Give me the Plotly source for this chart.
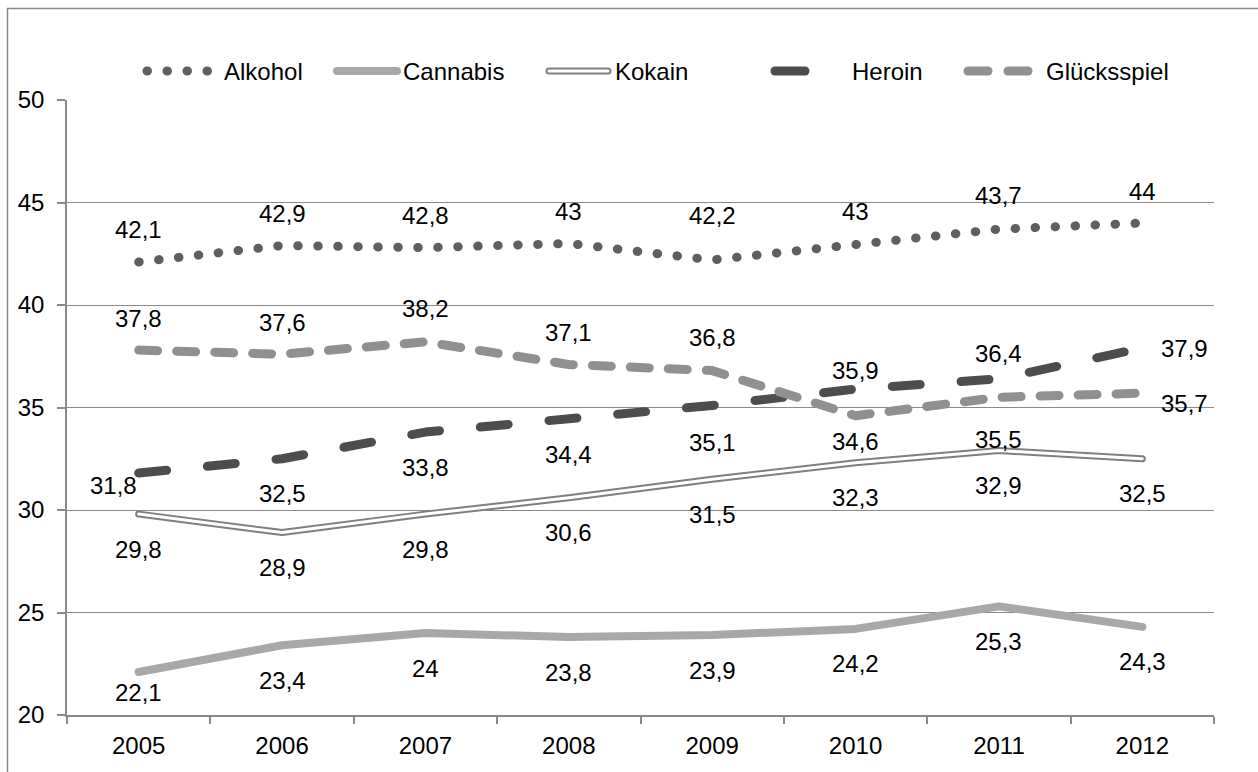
import plotly.graph_objects as go

# ---------------- data ----------------
years = ["2005", "2006", "2007", "2008", "2009", "2010", "2011", "2012"]
alkohol = [42.1, 42.9, 42.8, 43.0, 42.2, 43.0, 43.7, 44.0]
cannabis = [22.1, 23.4, 24.0, 23.8, 23.9, 24.2, 25.3, 24.3]
kokain = [29.8, 28.9, 29.8, 30.6, 31.5, 32.3, 32.9, 32.5]
heroin = [31.8, 32.5, 33.8, 34.4, 35.1, 35.9, 36.4, 37.9]
gluecksspiel = [37.8, 37.6, 38.2, 37.1, 36.8, 34.6, 35.5, 35.7]
series_names = ["Alkohol", "Cannabis", "Kokain", "Heroin", "Glücksspiel"]
y_ticks = [20, 25, 30, 35, 40, 45, 50]

# ---------------- style ----------------
FONT = "Liberation Sans, Arial, sans-serif"
FS = 24
C_ALK = "#5f5f5f"
C_CAN = "#a8a8a8"
C_KOK = "#7f7f7f"
C_HER = "#4d4d4d"
C_GLU = "#909090"
AXC = "#8a8a8a"

W, H = 1258, 772
ML, MR, MT, MB = 67, 44, 100, 57
PW, PH = W - ML - MR, H - MT - MB


def px(x):
    return (x - ML) / PW


def py(y):
    return (H - MB - y) / PH


fig = go.Figure()

# Alkohol (round dots)
fig.add_trace(go.Scatter(x=years, y=alkohol, mode="lines", name=series_names[0],
                         line=dict(color=C_ALK, width=9, dash="0.5px,19.5px"),
                         showlegend=False, hoverinfo="skip"))
# Cannabis
fig.add_trace(go.Scatter(x=years, y=cannabis, mode="lines", name=series_names[1],
                         line=dict(color=C_CAN, width=8),
                         showlegend=False, hoverinfo="skip"))
# Kokain (double line)
fig.add_trace(go.Scatter(x=years, y=kokain, mode="lines", name=series_names[2],
                         line=dict(color=C_KOK, width=7),
                         showlegend=False, hoverinfo="skip"))
fig.add_trace(go.Scatter(x=years, y=kokain, mode="lines", name=series_names[2] + "_inner",
                         line=dict(color="white", width=3),
                         showlegend=False, hoverinfo="skip"))
# Heroin (long dashes)
fig.add_trace(go.Scatter(x=years, y=heroin, mode="lines", name=series_names[3],
                         line=dict(color=C_HER, width=9, dash="28px,41px"),
                         showlegend=False, hoverinfo="skip"))
# Glücksspiel (short dashes)
fig.add_trace(go.Scatter(x=years, y=gluecksspiel, mode="lines", name=series_names[4],
                         line=dict(color=C_GLU, width=9, dash="19px,19px"),
                         showlegend=False, hoverinfo="skip"))


# ---------------- data labels ----------------
def fmt(v):
    return f"{v:g}".replace(".", ",")


offsets = {
    "alk": [(0, 32), (0, 32), (0, 32), (0, 32), (0, 44), (0, 32), (0, 34), (0, 32)],
    "can": [(0, -21), (0, -35), (0, -35), (0, -35), (0, -35), (0, -35), (0, -35), (0, -35)],
    "kok": [(0, -35)] * 8,
    "her": [(-25, -12), (0, -35), (0, -35), (0, -35), (0, -37), (0, 19), (0, 25), (42, 0)],
    "glu": [(0, 32), (0, 32), (0, 33), (0, 32), (0, 33), (0, -26), (0, -42), (42, -10)],
}
series_vals = {"alk": alkohol, "can": cannabis, "kok": kokain, "her": heroin, "glu": gluecksspiel}

annotations = []
for key, vals in series_vals.items():
    for i, v in enumerate(vals):
        dx, dy = offsets[key][i]
        # category axis: annotation x uses the category's serial index
        annotations.append(dict(x=i, y=v, xref="x", yref="y", text=fmt(v), showarrow=False,
                                xshift=dx, yshift=dy, xanchor="center", yanchor="middle",
                                font=dict(family=FONT, size=FS, color="black")))

# ---------------- manual legend ----------------
LY = py(71)
legend_text_x = [222, 401, 613, 850, 1044]
for name, tx in zip(series_names, legend_text_x):
    annotations.append(dict(x=px(tx), y=LY, xref="paper", yref="paper", text=name,
                            showarrow=False, xanchor="left", yanchor="middle",
                            font=dict(family=FONT, size=FS, color="black")))

shapes = []
# outer frame (right and bottom edges fall outside the picture)
shapes.append(dict(type="rect", xref="paper", yref="paper",
                   x0=px(7.5), x1=px(1270), y0=py(790), y1=py(8.5),
                   line=dict(color=AXC, width=1.5), fillcolor="rgba(0,0,0,0)", layer="above"))
# Alkohol legend dots
shapes.append(dict(type="line", xref="paper", yref="paper", x0=px(147), x1=px(208), y0=LY, y1=LY,
                   line=dict(color=C_ALK, width=9, dash="0.5px,19.5px")))
# Cannabis legend
shapes.append(dict(type="line", xref="paper", yref="paper", x0=px(337), x1=px(397), y0=LY, y1=LY,
                   line=dict(color=C_CAN, width=8)))
# Kokain legend (double)
shapes.append(dict(type="line", xref="paper", yref="paper", x0=px(549), x1=px(608), y0=LY, y1=LY,
                   line=dict(color=C_KOK, width=7)))
shapes.append(dict(type="line", xref="paper", yref="paper", x0=px(549), x1=px(608), y0=LY, y1=LY,
                   line=dict(color="white", width=3)))
# Heroin legend (single dash)
shapes.append(dict(type="line", xref="paper", yref="paper", x0=px(775), x1=px(805), y0=LY, y1=LY,
                   line=dict(color=C_HER, width=9)))
# Glücksspiel legend (two dashes)
shapes.append(dict(type="line", xref="paper", yref="paper", x0=px(968), x1=px(988), y0=LY, y1=LY,
                   line=dict(color=C_GLU, width=9)))
shapes.append(dict(type="line", xref="paper", yref="paper", x0=px(1008), x1=px(1028), y0=LY, y1=LY,
                   line=dict(color=C_GLU, width=9)))

fig.update_layout(
    width=W, height=H, autosize=False,
    margin=dict(l=ML, r=MR, t=MT, b=MB, pad=0),
    paper_bgcolor="white", plot_bgcolor="white",
    font=dict(family=FONT, size=FS, color="black"),
    showlegend=False,
    annotations=annotations,
    shapes=shapes,
    xaxis=dict(type="category", categoryorder="array", categoryarray=years,
               range=[-0.5, 7.5], tickson="boundaries", ticks="outside", ticklen=7,
               tickcolor=AXC, tickwidth=1.5, showline=True, linecolor=AXC, linewidth=1.5,
               showgrid=False, zeroline=False, ticklabelstandoff=8,
               tickfont=dict(family=FONT, size=FS, color="black")),
    yaxis=dict(range=[20, 50], tickvals=y_ticks, ticks="outside", ticklen=8,
               tickcolor=AXC, tickwidth=1.5, showline=True, linecolor=AXC, linewidth=1.5,
               showgrid=True, gridcolor=AXC, gridwidth=1.2, zeroline=False,
               ticklabelstandoff=8,
               tickfont=dict(family=FONT, size=FS, color="black")),
)

css = ".js-line{stroke-linecap:round !important;stroke-linejoin:round !important} .shapelayer path{stroke-linecap:round}"
post = "var s=document.createElement('style');s.textContent='" + css + "';document.head.appendChild(s);"
fig.write_html("out.html", post_script=post)
